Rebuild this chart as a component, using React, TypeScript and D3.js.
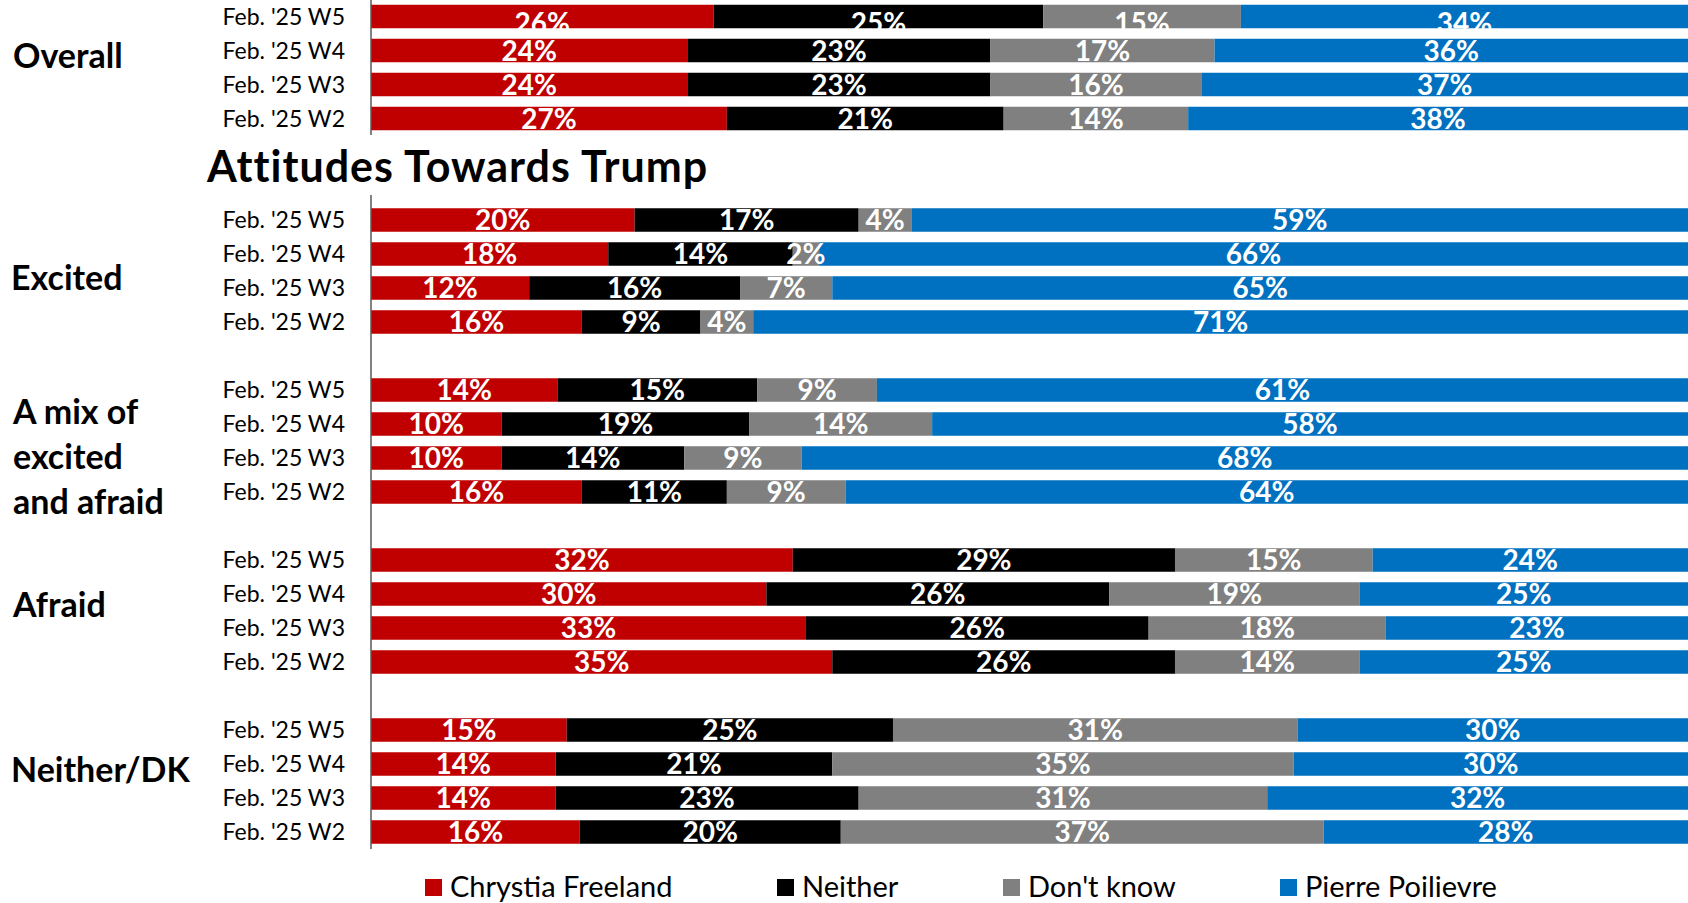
import React from 'react';
import * as d3 from 'd3';

// ---------- data ----------
const SERIES = ['Chrystia Freeland', 'Neither', "Don't know", 'Pierre Poilievre'];
const COLORS = ['#C00000', '#000000', '#808080', '#0070C0'];
const WAVES = ["Feb. '25 W5", "Feb. '25 W4", "Feb. '25 W3", "Feb. '25 W2"];
const TITLE = 'Attitudes Towards Trump';

const OVERALL_LABEL = ['Overall'];
const overall = [
  [26, 25, 15, 34],
  [24, 23, 17, 36],
  [24, 23, 16, 37],
  [27, 21, 14, 38],
];

const GROUP_LABELS = [['Excited'], ['A mix of', 'excited', 'and afraid'], ['Afraid'], ['Neither/DK']];
const excited = [
  [20, 17, 4, 59],
  [18, 14, 2, 66],
  [12, 16, 7, 65],
  [16, 9, 4, 71],
];
const mixed = [
  [14, 15, 9, 61],
  [10, 19, 14, 58],
  [10, 14, 9, 68],
  [16, 11, 9, 64],
];
const afraid = [
  [32, 29, 15, 24],
  [30, 26, 19, 25],
  [33, 26, 18, 23],
  [35, 26, 14, 25],
];
const neitherDK = [
  [15, 25, 31, 30],
  [14, 21, 35, 30],
  [14, 23, 31, 32],
  [16, 20, 37, 28],
];
const GROUP_DATA = [excited, mixed, afraid, neitherDK];

// ---------- layout ----------
const W = 1688;
const H = 903;
const FONT = 'Lato, "Open Sans", sans-serif';
const AXIS_X = 371;
const STEP = 34;
const BAR_H = 23.5;

type Row = { key: string; label: string; values: number[] };

// 100% stacked segments via d3.stack with expand offset
const stacker = d3
  .stack<number[], number>()
  .keys([0, 1, 2, 3])
  .value((d, k) => d[k])
  .offset(d3.stackOffsetExpand);

function stackRow(values: number[]) {
  const st = stacker([values]);
  return st.map((layer, i) => ({ x0: layer[0][0], x1: layer[0][1], v: values[i], i }));
}

export default function App() {
  const x = d3.scaleLinear().domain([0, 1]).range([AXIS_X, W + 1]);

  // top panel
  const topRows: Row[] = overall.map((v, i) => ({ key: `o${i}`, label: WAVES[i], values: v }));
  const yTop = d3
    .scaleBand<string>()
    .domain(topRows.map((r) => r.key))
    .range([-0.5, -0.5 + STEP * topRows.length])
    .paddingInner((STEP - BAR_H) / STEP)
    .paddingOuter((STEP - BAR_H) / STEP / 2);

  // bottom panel: groups separated by a blank row
  const botKeys: string[] = [];
  const botRows: Row[] = [];
  GROUP_DATA.forEach((g, gi) => {
    if (gi > 0) botKeys.push(`gap${gi}`);
    g.forEach((v, i) => {
      const key = `g${gi}r${i}`;
      botKeys.push(key);
      botRows.push({ key, label: WAVES[i], values: v });
    });
  });
  const BOT_Y0 = 203;
  const yBot = d3
    .scaleBand<string>()
    .domain(botKeys)
    .range([BOT_Y0, BOT_Y0 + STEP * botKeys.length])
    .paddingInner((STEP - BAR_H) / STEP)
    .paddingOuter((STEP - BAR_H) / STEP / 2);

  const renderRows = (rows: Row[], y: d3.ScaleBand<string>, firstNudge: number) =>
    rows.map((r, ri) => {
      const y0 = y(r.key) as number;
      const bh = y.bandwidth();
      const cy = y0 + bh / 2;
      const segs = stackRow(r.values);
      return (
        <g key={r.key}>
          <text x={345} y={cy + 8.3} textAnchor="end" fontFamily={FONT} fontSize={23} fill="#000">
            {r.label}
          </text>
          {segs.map((s) => (
            <rect
              key={s.i}
              x={x(s.x0)}
              y={y0}
              width={Math.max(0, x(s.x1) - x(s.x0))}
              height={bh}
              fill={COLORS[s.i]}
            />
          ))}
          {segs.map((s) => (
            <text
              key={'t' + s.i}
              x={(x(s.x0) + Math.min(x(s.x1), W)) / 2}
              y={cy + 10 + (ri === 0 ? firstNudge : 0)}
              textAnchor="middle"
              fontFamily={FONT}
              fontWeight={700}
              fontSize={28}
              fill="#fff"
            >
              {`${s.v}%`}
            </text>
          ))}
        </g>
      );
    });

  // group label placement (cap-centre offset from group centre)
  const GROUP_OFFSETS = [7, 16, -6.5, -11.5];
  const LABEL_FS = 34;
  const capHalf = (LABEL_FS * 0.7165) / 2;

  const topCenter =
    ((yTop(topRows[0].key) as number) + (yTop(topRows[3].key) as number) + yTop.bandwidth()) / 2;

  const legendX = [425, 777, 1003, 1280];

  return (
    <svg
      width={W}
      height={H}
      viewBox={`0 0 ${W} ${H}`}
      style={{ position: 'absolute', left: 0, top: 0, background: '#fff' }}
    >
      <rect x={0} y={0} width={W} height={H} fill="#fff" />

      {/* top panel */}
      {renderRows(topRows, yTop, 6)}
      <line x1={AXIS_X} x2={AXIS_X} y1={0} y2={135} stroke="#595959" strokeWidth={1.5} />
      <text x={13} y={topCenter - 12 + capHalf} fontFamily={FONT} fontWeight={700} fontSize={LABEL_FS} fill="#000">
        {OVERALL_LABEL[0]}
      </text>

      {/* title */}
      <text x={207} y={182} fontFamily={FONT} fontWeight={700} fontSize={43} letterSpacing={1} fill="#000">
        {TITLE}
      </text>

      {/* bottom panel */}
      {renderRows(botRows, yBot, 0)}
      <line x1={AXIS_X} x2={AXIS_X} y1={195} y2={849} stroke="#595959" strokeWidth={1.5} />
      {GROUP_LABELS.map((lines, gi) => {
        const first = yBot(`g${gi}r0`) as number;
        const last = (yBot(`g${gi}r3`) as number) + yBot.bandwidth();
        const gc = (first + last) / 2 + GROUP_OFFSETS[gi];
        const lh = 45;
        const startCap = gc - ((lines.length - 1) * lh) / 2;
        return (
          <text key={gi} fontFamily={FONT} fontWeight={700} fontSize={LABEL_FS} fill="#000">
            {lines.map((ln, li) => (
              <tspan key={li} x={gi === 0 || gi === 3 ? 11 : 13} y={startCap + li * lh + capHalf}>
                {ln}
              </tspan>
            ))}
          </text>
        );
      })}

      {/* legend */}
      {SERIES.map((s, i) => (
        <g key={s}>
          <rect x={legendX[i]} y={879} width={17} height={17} fill={COLORS[i]} />
          <text x={legendX[i] + 25} y={897} fontFamily={FONT} fontSize={29} fill="#000">
            {s}
          </text>
        </g>
      ))}
    </svg>
  );
}
